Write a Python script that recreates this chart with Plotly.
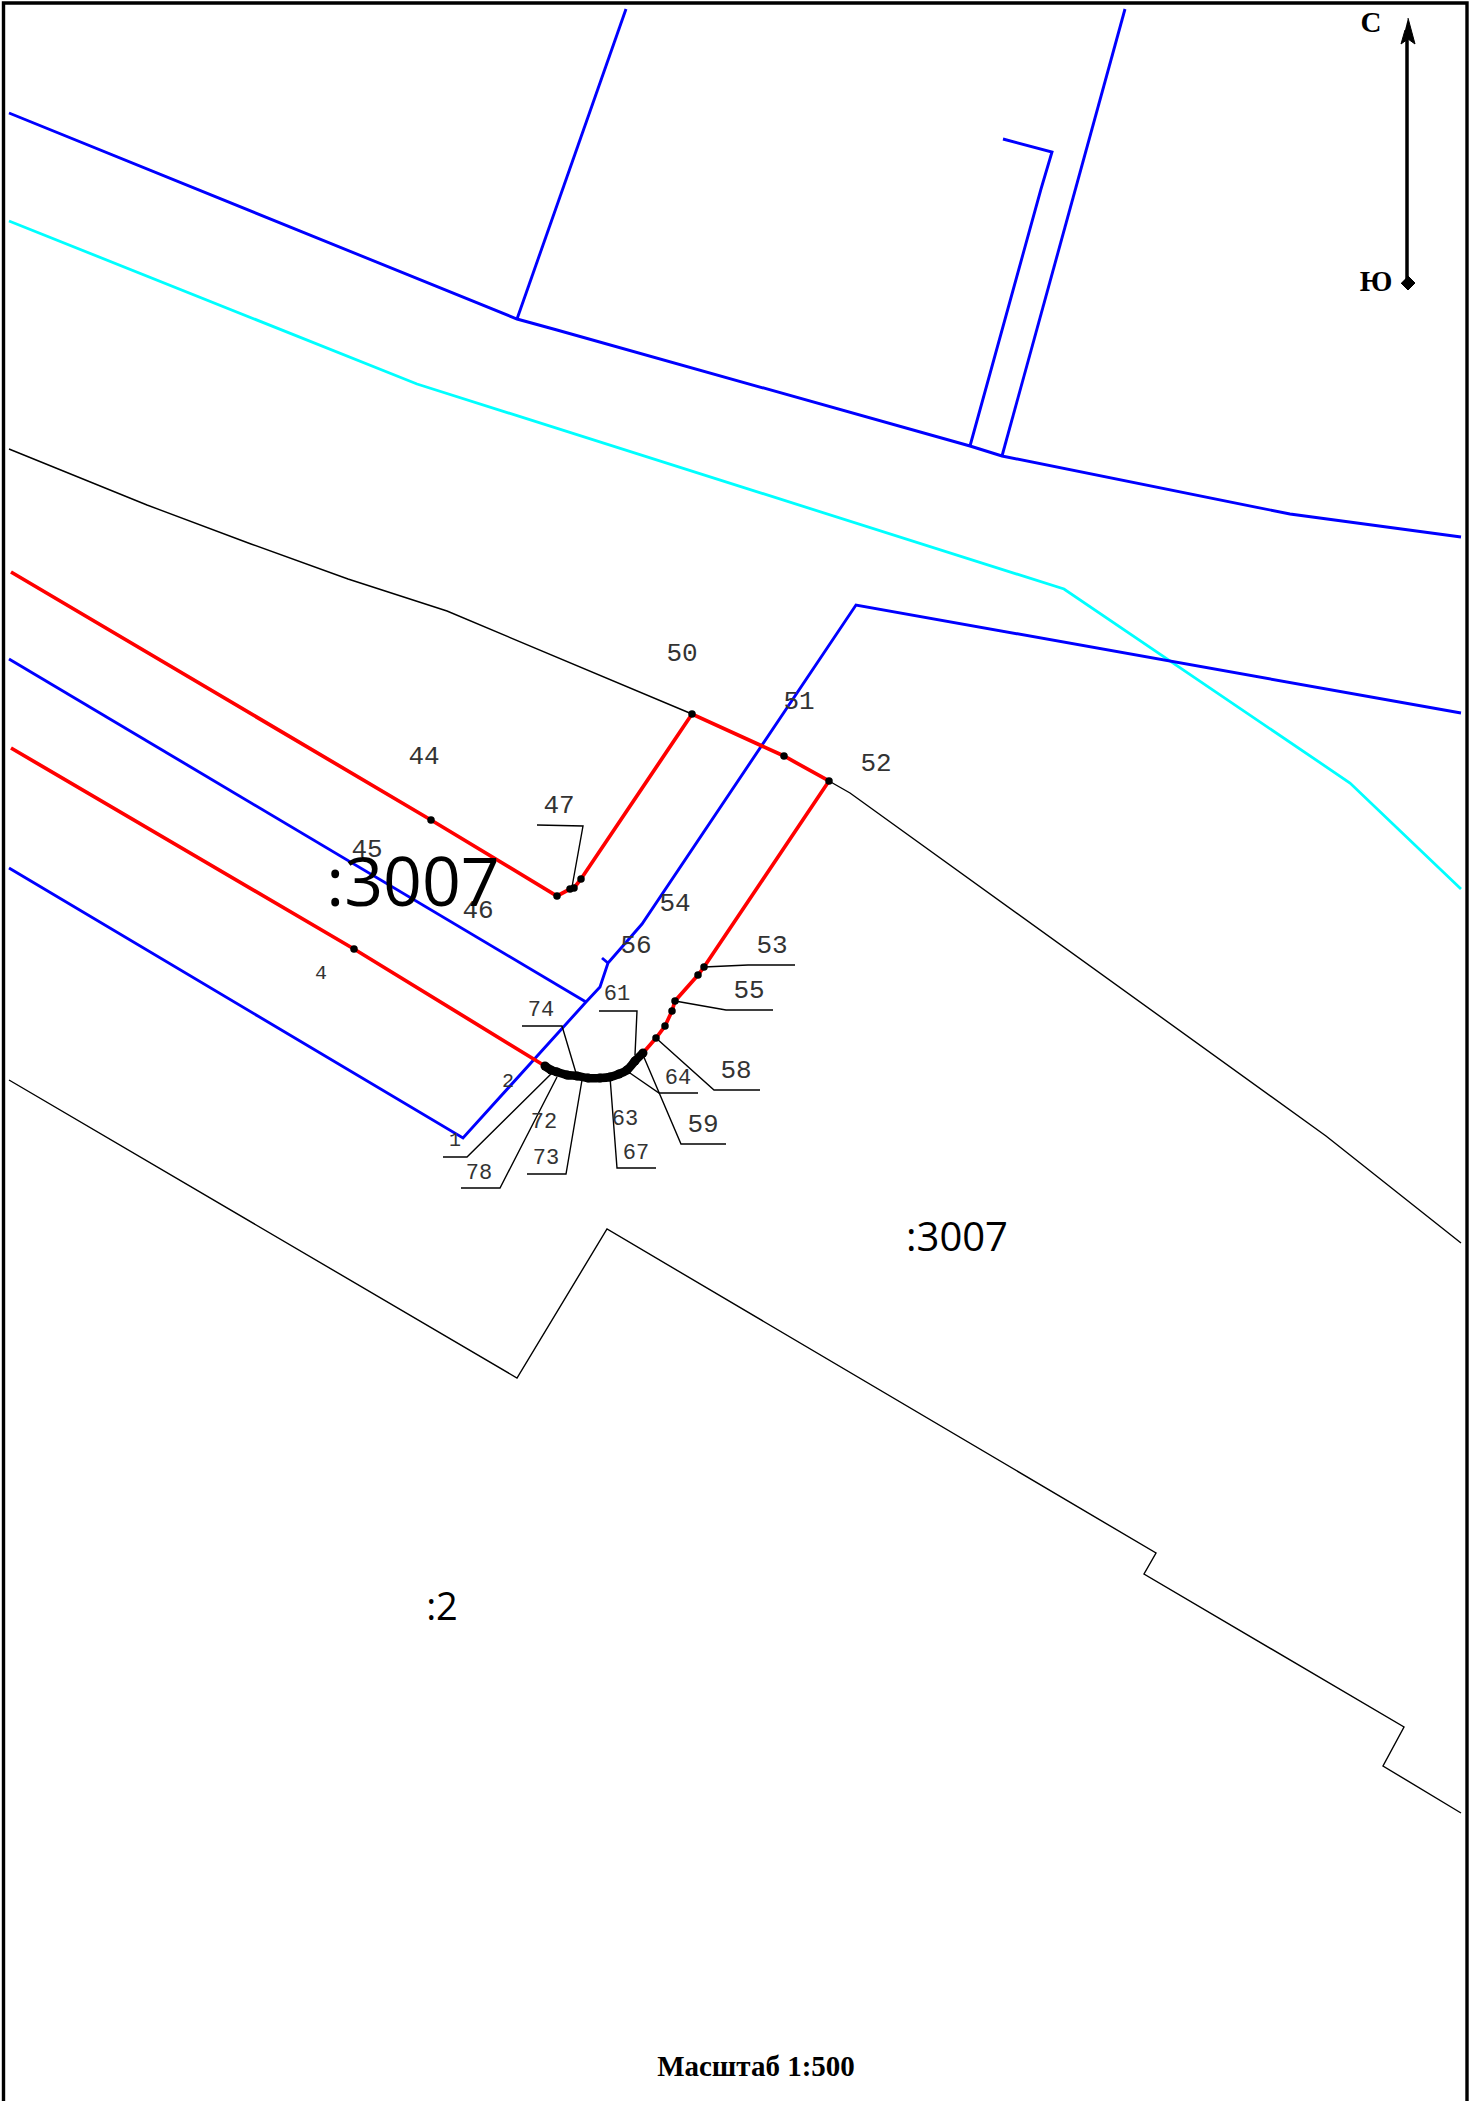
import plotly.graph_objects as go

W, H = 1471, 2101

blue_paths = [
    [(9,113),(517,319),(557,330),(970,446),(1002,456),(1290,514),(1461,537)],
    [(626,9),(517,319)],
    [(1125,9),(1002,456)],
    [(1003,139),(1052,152),(1041,189),(970,446)],
    [(1461,713),(856,605),(642,924),(608,963),(600,987),(586,1002),(463,1138),(9,868)],
    [(9,659),(586,1002)],
    [(602,958),(608,963)],
]
cyan_paths = [[(9,221),(417,384),(1064,589),(1350,783),(1461,889)]]
black_paths = [
    [(9,449),(147,505),(251,544),(348,579),(447,611),(692,714)],
    [(829,781),(850,793),(1326,1136),(1461,1243)],
    [(9,1080),(517,1378),(607,1229),(1156,1553),(1144,1574),(1404,1727),(1383,1766),(1461,1813)],
]
red_paths = [
    [(11,572),(431,820),(557,896),(570,889),(574,888),(581,879),(692,714),(784,756),(829,781),
     (704,967),(698,975),(675,1001),(672,1011),(665,1026),(656,1038),(643,1053)],
    [(11,748),(354,949),(545,1066)],
]
arc_path = [(545,1066),(551,1070),(557,1072),(567,1075),(577,1076),(588,1078),(600,1078),(610,1077),
            (619,1074),(627,1070),(635,1061),(643,1053)]
leaders = [
    [(537,825),(583,826),(572,887)],
    [(704,967),(748,965),(795,965)],
    [(675,1001),(726,1010),(773,1010)],
    [(599,1011),(637,1011),(635,1055)],
    [(522,1026),(562,1026),(576,1073)],
    [(656,1038),(714,1090),(760,1090)],
    [(627,1071),(659,1093),(698,1093)],
    [(643,1055),(681,1144),(726,1144)],
    [(610,1077),(617,1168),(656,1168)],
    [(582,1080),(566,1174),(527,1174)],
    [(557,1077),(500,1188),(461,1188)],
    [(552,1073),(467,1157),(443,1157)],
]
dots = [(431,820),(354,949),(557,896),(570,889),(574,888),(581,879),(692,714),(784,756),(829,781),
        (704,967),(698,975),(675,1001),(672,1011),(665,1026),(656,1038)]
big_numbers = [("44",424,757),("45",367,850),("46",478,911),("47",559,806),("50",682,654),("51",799,702),
               ("52",876,764),("54",675,904),("56",636,946),("53",772,946),("55",749,991),("58",736,1071),("59",703,1125)]
small_numbers = [("61",617,994),("74",541,1010),("64",678,1078),("63",625,1119),("67",636,1153),
                 ("72",544,1122),("73",546,1158),("78",479,1173)]
tiny_numbers = [("2",508,1082),("1",455,1141),("4",321,974)]
parcel_labels = [(":3007",413,889,68),(":3007",957,1241,40),(":2",442,1610,38)]
frame_path = [(3.5,2101),(3.5,3),(1467,3),(1467,2101)]
arrow_shaft = [(1407,30),(1407,283)]
arrow_head = [(1408,18),(1411,30),(1415,44),(1408,39),(1401,44),(1405,30)]
arrow_tail = [(1408,276),(1415,283),(1408,290),(1401,283)]
compass = [("С",1371,25),("Ю",1376,284)]
scale_text = "Масштаб 1:500"

fig = go.Figure()

def add_path(p, color, width):
    fig.add_trace(go.Scatter(x=[a[0] for a in p], y=[a[1] for a in p], mode="lines",
                             line=dict(color=color, width=width, simplify=False), hoverinfo="skip"))

for p in cyan_paths: add_path(p, "#00ffff", 2.8)
for p in blue_paths: add_path(p, "#0000ff", 2.9)
for p in black_paths: add_path(p, "#000000", 1.4)
for p in red_paths: add_path(p, "#ff0000", 3.7)
for p in leaders: add_path(p, "#000000", 1.4)
fig.add_trace(go.Scatter(x=[a[0] for a in arc_path], y=[a[1] for a in arc_path], mode="lines+markers",
                         line=dict(color="#000000", width=8.5, shape="spline", simplify=False),
                         marker=dict(color="#000000", size=9), hoverinfo="skip"))
add_path(frame_path, "#000000", 3.4)
add_path(arrow_shaft, "#000000", 3.5)

for poly in (arrow_head, arrow_tail):
    fig.add_trace(go.Scatter(x=[a[0] for a in poly], y=[a[1] for a in poly], mode="lines", fill="toself",
                             fillcolor="#000000", line=dict(color="#000000", width=1), hoverinfo="skip"))

fig.add_trace(go.Scatter(x=[d[0] for d in dots], y=[d[1] for d in dots], mode="markers",
                         marker=dict(color="#000000", size=7.5), hoverinfo="skip"))

def add_text(items, family, size, color="#333333", bold=False):
    fig.add_trace(go.Scatter(x=[i[1] for i in items], y=[i[2] for i in items],
                             text=[f"<b>{i[0]}</b>" if bold else i[0] for i in items], mode="text",
                             textposition="middle center",
                             textfont=dict(family=family, size=size, color=color), hoverinfo="skip"))

add_text(big_numbers, "Liberation Mono", 26)
add_text(small_numbers, "Liberation Mono", 22)
add_text(tiny_numbers, "Liberation Mono", 20)
for t, x, y, s in parcel_labels:
    add_text([(t, x, y)], "Open Sans", s, "#000000")
add_text(compass, "Liberation Serif", 29, "#000000", True)
add_text([(scale_text, 756, 2069)], "Liberation Serif", 29, "#000000", True)

fig.update_layout(width=W, height=H, margin=dict(l=0, r=0, t=0, b=0), showlegend=False,
                  paper_bgcolor="#ffffff", plot_bgcolor="#ffffff",
                  xaxis=dict(range=[0, W], visible=False, fixedrange=True),
                  yaxis=dict(range=[H, 0], visible=False, fixedrange=True))
fig.write_html("out.html", post_script="document.body.style.margin='0';document.body.style.overflow='hidden';",
               config={"displayModeBar": False})
